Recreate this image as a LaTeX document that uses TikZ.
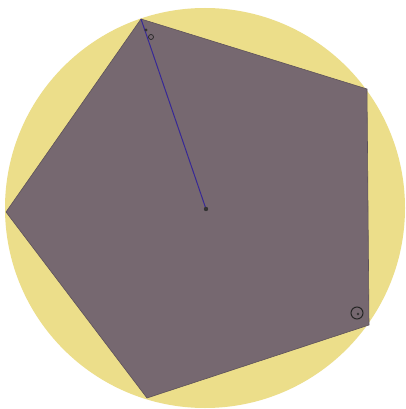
\documentclass[tikz,border=0pt]{standalone}
\definecolor{disk}{RGB}{236,222,138}
\definecolor{poly}{RGB}{118,104,112}
\definecolor{radcol}{RGB}{55,40,150}
\tikzset{mark ring/.style={draw=black!85,line width=1pt}}
\begin{document}
\begin{tikzpicture}[x=1pt,y=-1pt]
\useasboundingbox (0,0) rectangle (406,409);
\fill[white] (0,0) rectangle (406,409);
\fill[disk] (205,208) circle (200);
\coordinate (A) at (141,19);
\coordinate (B) at (367,89);
\coordinate (C) at (369,325);
\coordinate (D) at (147,398);
\coordinate (E) at (6,212);
\coordinate (O) at (206,209);
\fill[poly, draw=poly!80!black, line width=0.6pt] (A) -- (B) -- (C) -- (D) -- (E) -- cycle;
\draw[draw=radcol, line width=1pt] (O) -- (A);
\fill[black!80] (O) circle (2.2);
\fill[black!80] (146,30) circle (1.6);
\draw[mark ring, line width=0.7pt] (151,37) circle (2.5);
\draw[mark ring] (357,313) circle (6);
\fill[black!80] (358,314) circle (1.3);
\end{tikzpicture}
\end{document}
